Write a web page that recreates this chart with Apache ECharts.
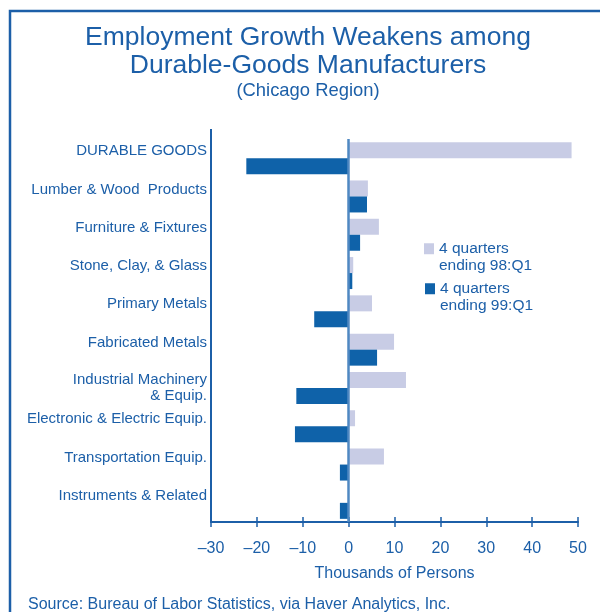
<!DOCTYPE html>
<html>
<head>
<meta charset="utf-8">
<script src="https://cdn.jsdelivr.net/npm/echarts@6/dist/echarts.min.js"></script>
<style>
  html, body { margin: 0; padding: 0; background: #fff; }
  #grafico { width: 600px; height: 612px; }
</style>
</head>
<body>
<div id="grafico"></div>
<script>
// categorias (de arriba hacia abajo) y valores en miles de personas
var categorias = [
    'DURABLE GOODS',
    'Lumber & Wood  Products',
    'Furniture & Fixtures',
    'Stone, Clay, & Glass',
    'Primary Metals',
    'Fabricated Metals',
    'Industrial Machinery\n& Equip.',
    'Electronic & Electric Equip.',
    'Transportation Equip.',
    'Instruments & Related'
];
var q98 = [48.6, 4.2, 6.6, 1.0, 5.1, 9.9, 12.5, 1.4, 7.7, 0];
var q99 = [-22.3, 4.0, 2.5, 0.8, -7.5, 6.2, -11.4, -11.7, -1.9, -1.9];
var nombres = ['4 quarters\nending 98:Q1', '4 quarters\nending 99:Q1'];

var azul = '#1c5fa8';
var fuente = '"Liberation Sans", Arial, Helvetica, sans-serif';

var myChart = echarts.init(document.getElementById('grafico'));

// la etiqueta de dos lineas va centrada, las demas un poco arriba
var etiquetas = categorias.map(function (c) {
    if (c.indexOf('\n') >= 0) {
        return { value: c, textStyle: { verticalAlign: 'middle', lineHeight: 16.5 } };
    }
    return c;
});

var legendText = {
    color: azul, fontSize: 15.5, fontFamily: fuente, lineHeight: 16.5
};

var option = {
    animation: false,
    textStyle: { fontFamily: fuente },
    title: [{
        text: 'Employment Growth Weakens among\nDurable-Goods Manufacturers',
        subtext: '(Chicago Region)',
        left: 303,
        top: 18,
        textAlign: 'center',
        itemGap: 1,
        textStyle: { color: azul, fontSize: 26.5, lineHeight: 28.5, fontWeight: 'normal', fontFamily: fuente },
        subtextStyle: { color: azul, fontSize: 18.4, lineHeight: 20, fontFamily: fuente }
    }, {
        text: 'Source: Bureau of Labor Statistics, via Haver Analytics, Inc.',
        left: 23,
        top: 592,
        textStyle: { color: azul, fontSize: 16, fontWeight: 'normal', fontFamily: fuente }
    }],
    legend: [{
        data: [nombres[0]],
        left: 424, top: 224,
        padding: 0,
        icon: 'rect',
        itemWidth: 10, itemHeight: 11,
        selectedMode: false,
        formatter: function (n) { return '\n' + n; },
        textStyle: legendText
    }, {
        data: [nombres[1]],
        left: 425, top: 264,
        padding: 0,
        icon: 'rect',
        itemWidth: 10, itemHeight: 11,
        selectedMode: false,
        formatter: function (n) { return '\n' + n; },
        textStyle: legendText
    }],
    grid: { left: 211, right: 22, top: 139, bottom: 90 },
    xAxis: [{
        type: 'value',
        min: -30, max: 50, interval: 10,
        name: 'Thousands of Persons',
        nameLocation: 'middle',
        nameGap: 44,
        nameTextStyle: { color: azul, fontSize: 16, fontFamily: fuente },
        axisLine: { show: true, onZero: false, lineStyle: { color: azul, width: 2 } },
        axisTick: { show: true, length: 5, lineStyle: { color: azul, width: 1.5 } },
        axisLabel: {
            color: azul, fontSize: 16, margin: 19, fontFamily: fuente,
            formatter: function (v) { return v < 0 ? '\u2013' + Math.abs(v) : String(v); }
        },
        splitLine: { show: false }
    }, {
        type: 'value',
        position: 'bottom',
        min: -30, max: 50, interval: 10,
        axisLine: { show: false },
        axisTick: { show: true, inside: true, length: 5, lineStyle: { color: azul, width: 1.5 } },
        axisLabel: { show: false },
        splitLine: { show: false }
    }],
    yAxis: {
        type: 'category',
        inverse: true,
        data: etiquetas,
        axisLine: { show: true, onZero: false, lineStyle: { color: azul, width: 2 } },
        axisTick: { show: false },
        axisLabel: {
            color: azul, fontSize: 15, margin: 4, fontFamily: fuente,
            verticalAlign: 'bottom', lineHeight: 14
        }
    },
    graphic: [{
        type: 'polyline',
        shape: { points: [[10, 612], [10, 11], [600, 11]] },
        style: { stroke: azul, lineWidth: 2.5, fill: null }
    }, {
        type: 'line',
        shape: { x1: 211, y1: 129, x2: 211, y2: 140 },
        style: { stroke: azul, lineWidth: 2 }
    }],
    series: [{
        name: nombres[0],
        type: 'bar',
        data: q98,
        barWidth: 16,
        barGap: '0%',
        itemStyle: { color: '#c8cce5' },
        markLine: {
            silent: true,
            symbol: 'none',
            label: { show: false },
            lineStyle: { color: '#4f88c2', width: 2.5, type: 'solid' },
            data: [{ xAxis: 0 }]
        }
    }, {
        name: nombres[1],
        type: 'bar',
        data: q99,
        barWidth: 16,
        barGap: '0%',
        itemStyle: { color: '#0f62a9' }
    }]
};

myChart.setOption(option);
</script>
</body>
</html>
